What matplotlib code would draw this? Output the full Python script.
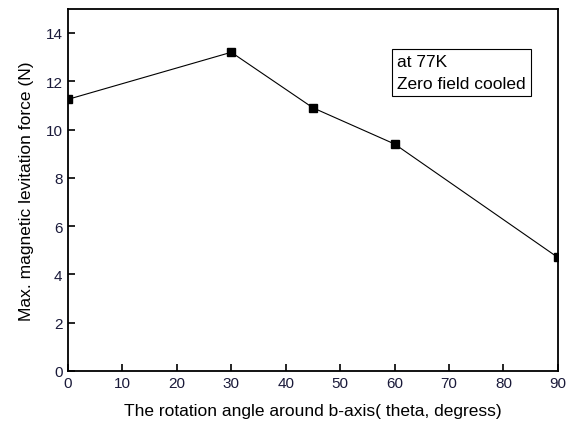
import matplotlib
matplotlib.use("Agg")
import matplotlib.pyplot as plt

plt.rcParams["font.family"] = ["Liberation Sans", "DejaVu Sans"]

# ---- data ----
angles = [0, 30, 45, 60, 90]
force = [11.25, 13.2, 10.9, 9.4, 4.7]
x_ticks = list(range(0, 91, 10))
y_ticks = list(range(0, 15, 2))

fig = plt.figure(figsize=(5.71, 4.27), dpi=100)
ax = fig.add_axes([0.119, 0.129, 0.858, 0.848])

ax.plot(angles, force, color="black", linewidth=0.8, marker="s",
        markersize=6, markerfacecolor="black", markeredgecolor="black")

ax.set_xlim(0, 90)
ax.set_ylim(0, 15)
ax.set_xticks(x_ticks)
ax.set_yticks(y_ticks)
ax.tick_params(direction="in", length=5, width=1.2, labelsize=11,
               labelcolor="#1a1a3a", top=False, right=False, pad=4)
for s in ax.spines.values():
    s.set_linewidth(1.3)

ax.set_xlabel("The rotation angle around b-axis( theta, degress)", fontsize=12.5, labelpad=9)
ax.set_ylabel("Max. magnetic levitation force (N)", fontsize=12.5, labelpad=8)

ax.text(0.672, 0.875, "at 77K\nZero field cooled", transform=ax.transAxes,
        ha="left", va="top", fontsize=12.5, linespacing=1.55,
        bbox=dict(boxstyle="square,pad=0.3", facecolor="white",
                  edgecolor="black", linewidth=0.8))

fig.savefig("out.png", dpi=100)
